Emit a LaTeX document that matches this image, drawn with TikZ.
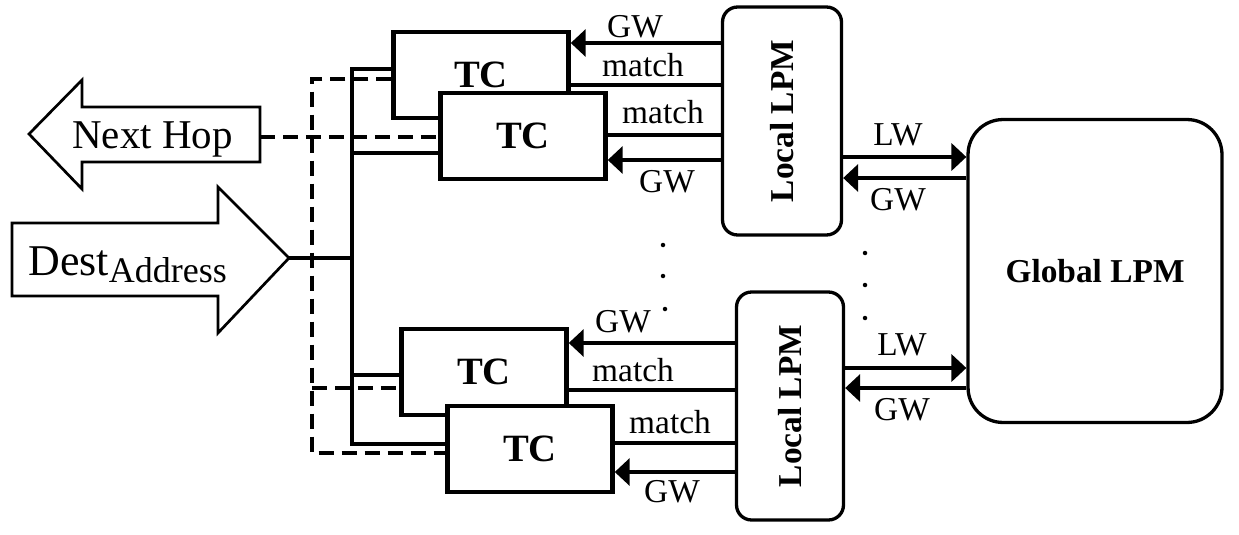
\documentclass[tikz,border=0pt]{standalone}
\usepackage{fontspec}
\setmainfont{Liberation Serif}
\usetikzlibrary{arrows.meta}

\tikzset{
  tcbox/.style={draw, line width=0.09cm, fill=white, minimum width=3.3cm, minimum height=1.72cm, font=\fontsize{22}{25}\selectfont\bfseries},
  lpmbox/.style={draw, line width=0.066cm, rounded corners=0.3cm, minimum width=2.38cm, minimum height=4.56cm},
  lpmtext/.style={rotate=90, font=\fontsize{19}{22}\selectfont\bfseries},
  globalbox/.style={draw, line width=0.066cm, rounded corners=0.7cm, minimum width=5.08cm, minimum height=6.06cm, font=\fontsize{19}{22}\selectfont\bfseries},
  lbl/.style={font=\fontsize{19}{22}\selectfont, inner sep=0pt},
  wire/.style={line width=0.08cm},
  dwire/.style={line width=0.08cm, dash pattern=on 0.3cm off 0.16cm},
  sigarrow/.style={line width=0.08cm, -{Triangle[length=0.3cm,width=0.54cm]}},
  bigarrow/.style={draw, line width=0.054cm, line join=miter},
}

\begin{document}
\begin{tikzpicture}[x=0.02cm, y=-0.02cm]
    \useasboundingbox (0,0) rectangle (1239,534);

    % Next hop and destination address
    \draw[bigarrow] (29,134) -- (82,80) -- (82,107) -- (260,107) -- (260,162) -- (82,162) -- (82,189) -- cycle;
    \node[anchor=base west, inner sep=0pt, font=\fontsize{23.3}{26}\selectfont] (nexthop) at (72,148) {Next Hop};
    \coordinate (nhtail) at (260,137);

    \draw[bigarrow] (12,223) -- (218,223) -- (218,187) -- (289,258) -- (218,333) -- (218,296) -- (12,296) -- cycle;
    \node[anchor=base west, inner sep=0pt] (dest) at (28,275) {\fontsize{25}{28}\selectfont Dest\raisebox{-0.14cm}{\fontsize{20.5}{24}\selectfont Address}};
    \coordinate (desttip) at (289,258);

    % TC units
    \node[tcbox, minimum width=3.5cm] (tcA) at (481,75) {TC};
    \node[tcbox] (tcB) at (523,136) {TC};
    \node[tcbox] (tcC) at (484,372) {TC};
    \node[tcbox] (tcD) at (530,449) {TC};

    % Local and global LPM
    \node[lpmbox] (lpmA) at (782,121) {};
    \node[lpmtext] (lpmAtext) at (lpmA.center) {Local LPM};
    \node[lpmbox, minimum width=2.14cm] (lpmB) at (790,406) {};
    \node[lpmtext] (lpmBtext) at (lpmB.center) {Local LPM};
    \node[globalbox] (glpm) at (1095,271) {Global LPM};

    % Address bus
    \coordinate (busT) at (352,69);
    \coordinate (busB) at (352,444);
    \draw[wire] (tcA.west |- busT) -- (busT) -- (busB) -- (tcD.west |- busB);
    \draw[wire] (desttip) -- (desttip -| busT);
    \draw[wire] (busT |- 0,153) -- (tcB.west |- 0,153);
    \draw[wire] (busT |- 0,375) -- (tcC.west |- 0,375);

    % Next hop results
    \coordinate (resT) at (312,79);
    \coordinate (resB) at (312,453);
    \draw[dwire] (nhtail) -- (tcB.west |- nhtail);
    \draw[dwire] (tcA.west |- resT) -- (resT) -- (resB) -- (tcD.west |- resB);
    \draw[dwire] (resT |- 0,388) -- (tcC.west |- 0,388);

    % TC <-> Local LPM
    \draw[sigarrow] (lpmA.west |- 0,43) -- (tcA.east |- 0,43);
    \draw[wire] (lpmA.west |- 0,85) -- (tcA.east |- 0,85);
    \draw[wire] (lpmA.west |- 0,135) -- (tcB.east |- 0,135);
    \draw[sigarrow] (lpmA.west |- 0,160) -- (tcB.east |- 0,160);
    \draw[sigarrow] (lpmB.west |- 0,343) -- (tcC.east |- 0,343);
    \draw[wire] (lpmB.west |- 0,390) -- (tcC.east |- 0,390);
    \draw[wire] (lpmB.west |- 0,443) -- (tcD.east |- 0,443);
    \draw[sigarrow] (lpmB.west |- 0,472) -- (tcD.east |- 0,472);

    % Local LPM <-> Global LPM
    \draw[sigarrow] (lpmA.east |- 0,157) -- (glpm.west |- 0,157);
    \draw[sigarrow] (glpm.west |- 0,178) -- (lpmA.east |- 0,178);
    \draw[sigarrow] (lpmB.east |- 0,368) -- (glpm.west |- 0,368);
    \draw[sigarrow] (glpm.west |- 0,388) -- (lpmB.east |- 0,388);

    % Labels
    \foreach \x/\y/\t [count=\i] in {635/27/GW, 643/65/match, 663/112/match, 667/182/GW,
        623/322/GW, 633/370/match, 670/422/match, 672/492/GW,
        898/135/LW, 898/200/GW, 902/345/LW, 902/410/GW} {
        \node[lbl] (lbl\i) at (\x,\y) {\t};
    }

    % Dots
    \foreach \x/\y in {663/245, 663/276, 665/309, 865/253, 865/285, 865/318} {
        \fill (\x,\y) circle (0.045cm);
    }
\end{tikzpicture}
\end{document}
